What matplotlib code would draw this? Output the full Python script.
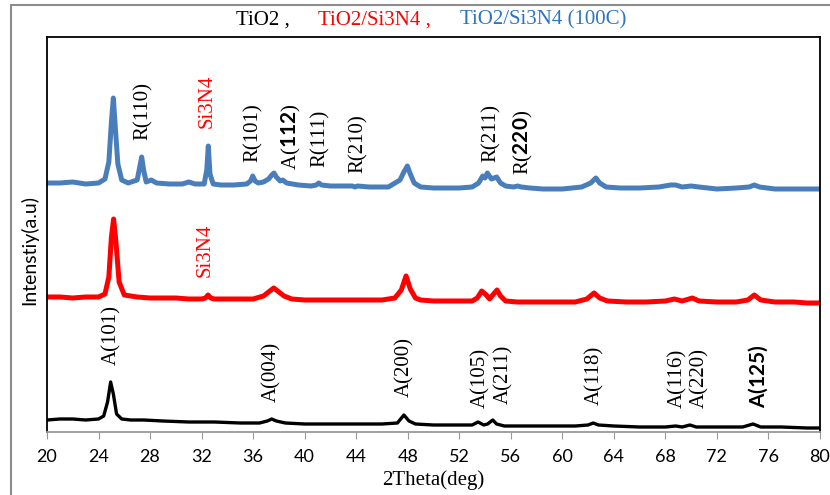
import matplotlib
matplotlib.use("Agg")
import matplotlib.pyplot as plt
import matplotlib.patches as mpatches

plt.rcParams["mathtext.fontset"] = "custom"
plt.rcParams["mathtext.bf"] = "Lato:bold"
plt.rcParams["mathtext.rm"] = "Liberation Serif"

# TiO2/Si3N4 (100C) - blue
blue_x = [20, 21, 22, 23, 24, 24.5, 24.8, 25.0, 25.15, 25.3, 25.5, 25.8, 26.3, 27.0, 27.2, 27.35, 27.5, 27.7,
          28.1, 28.5, 29.5, 30.5, 31, 31.5, 32.2, 32.4, 32.52, 32.65, 32.9, 33.5, 34.5, 35.5, 35.8, 35.97,
          36.15, 36.4, 36.8, 37.2, 37.45, 37.62, 37.8, 38.1, 38.3, 38.6, 39.5, 40.5, 40.9, 41.1, 41.3, 42,
          43, 43.7, 43.9, 44.1, 45, 46.5, 47.4, 47.7, 47.97, 48.2, 48.5, 49, 50, 51, 52, 53, 53.5, 53.82,
          54.0, 54.18, 54.5, 54.9, 55.2, 55.6, 56.2, 56.54, 56.8, 57.5, 58.5, 60, 61.5, 62.2, 62.6, 62.9,
          63.4, 64.5, 66, 67.5, 68.4, 68.8, 69.3, 70.0, 70.6, 72, 73.5, 74.5, 74.9, 75.3, 76.5, 78, 79, 80]
blue_y = [249, 249, 250, 248, 249, 253, 270, 310, 334, 305, 268, 252, 249, 252, 265, 275, 262, 250,
          252, 249, 248, 248, 250, 248, 248, 262, 286, 258, 248, 247, 247, 248, 251, 256,
          251, 249, 250, 253, 257, 259, 255, 251, 252, 249, 247, 246, 247, 249, 247, 246,
          246, 246, 245, 246, 245, 245, 252, 260, 266, 258, 249, 245, 244, 244, 244, 245, 249, 256,
          254, 259, 253, 255, 249, 246, 245, 246, 245, 244, 243, 243, 245, 249, 254, 249,
          245, 244, 244, 245, 247, 247, 245, 246, 245, 243, 244, 245, 247, 245, 243, 243, 243, 243]

# TiO2/Si3N4 - red
red_x = [20, 21, 22, 23, 24, 24.5, 24.8, 25.0, 25.17, 25.35, 25.6, 26, 27, 28, 29, 30, 31, 32, 32.3, 32.5,
         32.7, 33, 34, 35, 36, 36.8, 37.3, 37.6, 37.9, 38.4, 39, 40, 41, 42, 43, 44, 45, 46, 47, 47.5,
         47.87, 48.2, 48.6, 49, 50, 51, 52, 53, 53.4, 53.74, 54.1, 54.35, 54.6, 54.93, 55.2, 55.6, 56.5,
         58, 59.5, 61, 61.9, 62.46, 62.9, 63.5, 65, 66.5, 68, 68.7, 69.3, 70.1, 70.6, 72, 73.5, 74.4,
         74.9, 75.4, 76.5, 78, 79, 80]
red_y = [135, 135, 134, 135, 135, 138, 155, 195, 213, 190, 150, 137, 135, 134, 134, 134, 133, 133, 134, 137,
         134, 133, 133, 133, 133, 136, 141, 144, 141, 136, 133, 132, 132, 132, 132, 132, 132, 132, 134, 142,
         156, 143, 134, 132, 131, 131, 131, 131, 134, 141, 137, 133, 137, 142, 136, 131, 130,
         130, 130, 130, 133, 139, 134, 131, 130, 130, 131, 133, 131, 134, 131, 130, 130, 132,
         137, 132, 130, 130, 129, 129]

# TiO2 - black
black_x = [20, 21, 22, 23, 24, 24.4, 24.7, 24.94, 25.15, 25.4, 25.8, 26.5, 27.5, 29, 31, 33, 35, 36.5, 37.1,
           37.44, 37.8, 38.5, 40, 42, 44, 46, 47.2, 47.7, 48.1, 48.6, 50, 52, 53, 53.46, 53.9, 54.2, 54.6,
           54.9, 55.5, 57, 59, 61, 62, 62.4, 62.8, 64, 66, 68, 68.8, 69.3, 69.9, 70.4, 72, 74, 74.8, 75.4,
           77, 79, 80]
black_y = [12, 13, 13, 12, 13, 16, 30, 50, 38, 18, 13, 12, 12, 11, 10, 10, 9, 9, 11,
           13, 11, 9, 8, 8, 8, 8, 9, 17, 11, 8, 7, 7, 7, 10, 7, 8, 12,
           8, 6, 6, 6, 6, 7, 9, 7, 6, 5, 5, 6, 5, 7, 5, 5, 5, 8, 5,
           5, 4, 4]

# peak labels: text, 2theta, height of label bottom, colour
blue_labels = ["R(110)", "Si3N4", "R(101)", r"A($\mathbf{112}$)", "R(111)", "R(210)", "R(211)", r"R($\mathbf{220}$)"]
blue_lab_x = [27.45, 32.44, 36.0, 39.0, 41.19, 44.16, 54.5, 56.97]
blue_lab_y = [292, 304, 270, 262, 265, 259, 270, 257]
blue_lab_c = ["black", "red", "black", "black", "black", "black", "black", "black"]

red_labels = ["Si3N4"]
red_lab_x = [32.29]
red_lab_y = [155]

black_labels = ["A(101)", "A(004)", "A(200)", "A(105)", "A(211)", "A(118)", "A(116)", "A(220)", r"$\mathbf{A(125)}$"]
black_lab_x = [25.05, 37.44, 47.79, 53.66, 55.42, 62.54, 68.93, 70.64, 75.2]
black_lab_y = [67, 30, 35, 24, 28, 27, 24, 24, 24]

xticks = list(range(20, 81, 4))

blue = "#4A7EBB"
red = "#FF0000"

fig = plt.figure(figsize=(8.3, 4.95), dpi=100)
ax = fig.add_axes([47/830, 63/495, 773/830, 395/495])

ax.plot(black_x, black_y, color="black", lw=2.4)
ax.plot(red_x, red_y, color=red, lw=3.6)
ax.plot(blue_x, blue_y, color=blue, lw=3.6)

ax.set_xlim(20, 80)
ax.set_ylim(0, 395)
ax.set_yticks([])
ax.set_xticks(xticks)
ax.set_xticklabels([str(t) for t in xticks], family=["Lato", "DejaVu Sans"], fontsize=13)
ax.tick_params(axis="x", direction="out", length=5, color="#999999", pad=7)
for s in ["left", "top", "right"]:
    ax.spines[s].set_color("black")
    ax.spines[s].set_linewidth(1.3)
ax.spines["bottom"].set_color("#999999")
ax.spines["bottom"].set_linewidth(1.3)

ax.set_xlabel("2Theta(deg)", family=["Liberation Serif", "DejaVu Serif"], fontsize=15, labelpad=4)
ax.set_ylabel("Intenstiy(a.u)", family=["Lato", "DejaVu Sans"], fontsize=14)
ax.yaxis.set_label_coords(-0.011, 0.46)

for t, x, y, c in zip(blue_labels, blue_lab_x, blue_lab_y, blue_lab_c):
    ax.text(x, y, t, rotation=90, ha="center", va="bottom", color=c, family="Liberation Serif", fontsize=15)
for t, x, y in zip(red_labels, red_lab_x, red_lab_y):
    ax.text(x, y, t, rotation=90, ha="center", va="bottom", color=red, family="Liberation Serif", fontsize=15)
for t, x, y in zip(black_labels, black_lab_x, black_lab_y):
    ax.text(x, y, t, rotation=90, ha="center", va="bottom", color="black", family="Liberation Serif", fontsize=15)

# multicolour title
fig.text(236/830, 1 - 20/495, "TiO2 ,", color="black", family="Liberation Serif", fontsize=15, va="center")
fig.text(318/830, 1 - 20/495, "TiO2/Si3N4 ,", color=red, family="Liberation Serif", fontsize=15, va="center")
fig.text(460/830, 1 - 20/495, "TiO2/Si3N4 (100C)", color="#2E75C0", family="Liberation Serif", fontsize=15, va="center")

# outer chart border
fig.patches.append(mpatches.Rectangle((11/830, -0.1), 1.1, 1.1 - 5/495, transform=fig.transFigure,
                                      fill=False, edgecolor="#8C8C8C", lw=1.5))

fig.savefig("out.png", dpi=100)
